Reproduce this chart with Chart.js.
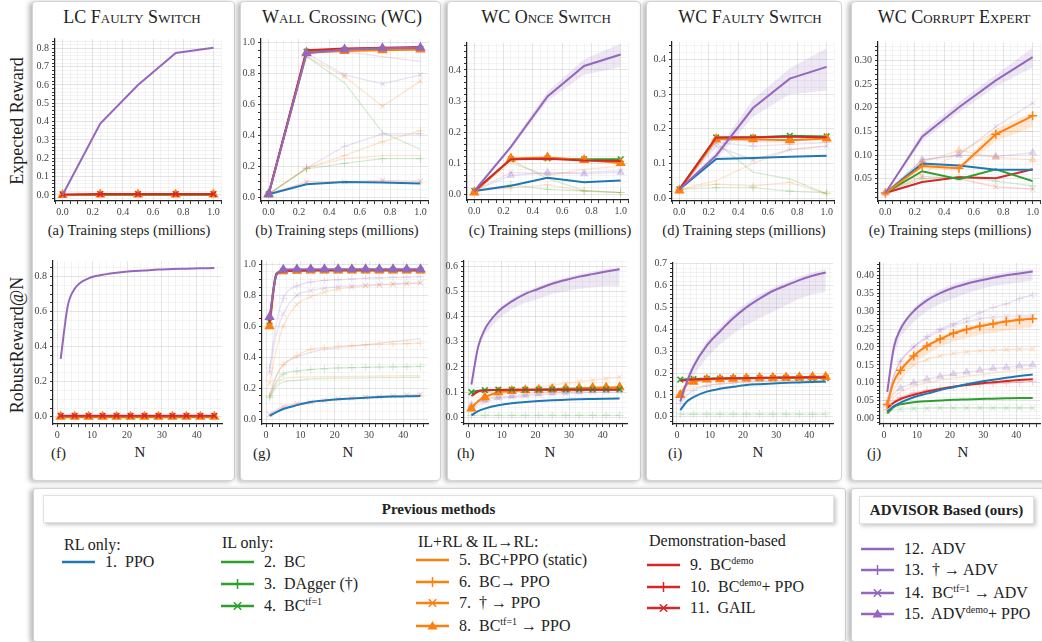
<!DOCTYPE html>
<html>
<head>
<meta charset="utf-8">
<script src="https://cdn.jsdelivr.net/npm/chart.js@4.4.1/dist/chart.umd.min.js"></script>
<style>
  html, body { margin: 0; padding: 0; width: 1042px; height: 642px; overflow: hidden; background: #fff; }
  body { position: relative; font-family: 'Liberation Serif', 'DejaVu Serif', serif; color: #222; }
  .card { position: absolute; background: #fff; border: 1px solid #d4d4d4; border-radius: 4px; box-shadow: -3px 1px 5px rgba(0,0,0,0.28); }
  .hdr { position: absolute; background: #fff; border: 1px solid #e0e0e0; box-shadow: 2px 2px 4px rgba(0,0,0,0.22); font-weight: bold; font-size: 15px; text-align: center; line-height: 26px; }
  .title { position: absolute; width: 220px; text-align: center; font-variant: small-caps; font-size: 18px; white-space: nowrap; line-height: 20px; }
  .xlab { position: absolute; width: 220px; text-align: center; font-size: 14.5px; white-space: nowrap; line-height: 18px; }
  .tag { position: absolute; font-size: 15px; line-height: 18px; }
  .ylab { position: absolute; width: 200px; text-align: center; font-size: 18px; line-height: 20px; white-space: nowrap; transform: rotate(-90deg); }
  canvas { position: absolute; }
  .lg { position: absolute; font-size: 16px; line-height: 18px; white-space: nowrap; }
  .lg sup { font-size: 10px; vertical-align: 6px; line-height: 0; }
  svg { position: absolute; }
</style>
</head>
<body>
<script>
// ---------------------------------------------------------------------
// Datos: pasos de entrenamiento (fila superior) y N (fila inferior)
// Cada serie: [método, destacado (1) o tenue (0), valores]
// ---------------------------------------------------------------------
const stepsX = [0, 0.25, 0.5, 0.75, 1.0];
const nX = [1, 3, 5, 9, 13, 17, 21, 25, 29, 33, 37, 41, 45];

const aSeries = [
  [1, 1, [0, 0, 0, 0, 0]],
  [2, 1, [0, 0, 0, 0, 0]],
  [8, 1, [0, 0.002, 0.002, 0.002, 0.002]],
  [11, 1, [0.003, 0.005, 0.005, 0.005, 0.005]],
  [12, 1, [0, 0.39, 0.60, 0.775, 0.803]]
];
const bSeries = [
  [12, 0, [0.02, 0.93, 0.94, 0.908, 0.878]],
  [14, 0, [0.02, 0.93, 0.79, 0.733, 0.79]],
  [7, 0, [0.02, 0.91, 0.78, 0.588, 0.75]],
  [2, 0, [0.02, 0.91, 0.74, 0.42, 0.31]],
  [13, 0, [0.02, 0.19, 0.33, 0.41, 0.41]],
  [6, 0, [0.02, 0.19, 0.27, 0.36, 0.43]],
  [5, 0, [0.02, 0.19, 0.25, 0.27, 0.27]],
  [3, 0, [0.02, 0.185, 0.22, 0.25, 0.25]],
  [11, 0, [0.02, 0.10, 0.10, 0.11, 0.105]],
  [1, 1, [0.02, 0.085, 0.10, 0.096, 0.09]],
  [4, 1, [0.02, 0.94, 0.95, 0.955, 0.958]],
  [8, 1, [0.02, 0.935, 0.945, 0.95, 0.955]],
  [9, 1, [0.02, 0.95, 0.96, 0.965, 0.97]],
  [15, 1, [0.02, 0.93, 0.955, 0.962, 0.965]]
];
const cSeries = [
  [15, 0, [0.01, 0.06, 0.07, 0.065, 0.07]],
  [14, 0, [0.01, 0.07, 0.065, 0.07, 0.075]],
  [5, 0, [0.01, 0.10, 0.06, 0.08, 0.09]],
  [2, 0, [0.01, 0.11, 0.05, 0.012, 0.005]],
  [6, 0, [0.01, 0.02, 0.03, 0.01, 0.005]],
  [3, 0, [0.01, 0.03, 0.015, 0.01, 0.005]],
  [1, 1, [0.01, 0.027, 0.053, 0.038, 0.044]],
  [4, 1, [0.01, 0.112, 0.115, 0.112, 0.112]],
  [8, 1, [0.005, 0.115, 0.118, 0.11, 0.10]],
  [9, 1, [0.01, 0.112, 0.114, 0.108, 0.107]],
  [12, 1, [0.01, 0.152, 0.315, 0.413, 0.45]]
];
const cBandLow = [0.01, 0.145, 0.30, 0.385, 0.41];
const cBandHigh = [0.01, 0.16, 0.33, 0.435, 0.485];

const dSeries = [
  [2, 0, [0.025, 0.16, 0.075, 0.055, 0.012]],
  [5, 0, [0.025, 0.05, 0.10, 0.14, 0.15]],
  [3, 0, [0.025, 0.03, 0.03, 0.02, 0.015]],
  [6, 0, [0.025, 0.04, 0.035, 0.045, 0.012]],
  [14, 0, [0.025, 0.15, 0.11, 0.14, 0.15]],
  [13, 0, [0.025, 0.16, 0.15, 0.155, 0.16]],
  [10, 0, [0.025, 0.17, 0.165, 0.165, 0.17]],
  [1, 1, [0.025, 0.113, 0.116, 0.119, 0.122]],
  [4, 1, [0.025, 0.175, 0.175, 0.18, 0.178]],
  [8, 1, [0.022, 0.17, 0.17, 0.167, 0.172]],
  [9, 1, [0.025, 0.175, 0.176, 0.177, 0.176]],
  [12, 1, [0.025, 0.123, 0.26, 0.345, 0.379]]
];
const dBandLow = [0.025, 0.11, 0.235, 0.30, 0.31];
const dBandHigh = [0.025, 0.135, 0.285, 0.375, 0.433];

const eSeries = [
  [14, 0, [0.02, 0.09, 0.10, 0.16, 0.21]],
  [8, 0, [0.02, 0.085, 0.11, 0.095, 0.09]],
  [15, 0, [0.02, 0.09, 0.10, 0.097, 0.105]],
  [5, 0, [0.02, 0.06, 0.105, 0.15, 0.15]],
  [11, 0, [0.02, 0.055, 0.05, 0.033, 0.028]],
  [3, 0, [0.02, 0.05, 0.055, 0.045, 0.035]],
  [9, 1, [0.02, 0.043, 0.053, 0.051, 0.07]],
  [2, 1, [0.02, 0.066, 0.049, 0.07, 0.045]],
  [1, 1, [0.02, 0.082, 0.078, 0.069, 0.069]],
  [6, 1, [0.02, 0.077, 0.072, 0.144, 0.183]],
  [12, 1, [0.02, 0.139, 0.201, 0.258, 0.307]]
];
const eBandLow = [0.02, 0.13, 0.19, 0.245, 0.285];
const eBandHigh = [0.02, 0.148, 0.212, 0.27, 0.327];
const eOrangeLow = [0.02, 0.072, 0.066, 0.13, 0.16];
const eOrangeHigh = [0.02, 0.082, 0.078, 0.155, 0.19];

const fSeries = [
  [1, 1, [0, 0, 0, 0, 0, 0, 0, 0, 0, 0, 0, 0, 0]],
  [2, 1, [-0.002, -0.002, -0.002, -0.002, -0.002, -0.002, -0.002, -0.002, -0.002, -0.002, -0.002, -0.002, -0.002]],
  [8, 1, [0.001, 0.001, 0.001, 0.001, 0.001, 0.001, 0.001, 0.001, 0.001, 0.001, 0.001, 0.001, 0.001]],
  [11, 1, [0.006, 0.006, 0.006, 0.006, 0.006, 0.006, 0.006, 0.006, 0.006, 0.006, 0.006, 0.006, 0.006]],
  [12, 1, [0.33, 0.63, 0.73, 0.79, 0.81, 0.822, 0.83, 0.835, 0.84, 0.843, 0.845, 0.847, 0.849]]
];
const gSeries = [
  [13, 0, [0.33, 0.62, 0.78, 0.86, 0.885, 0.895, 0.90, 0.905, 0.91, 0.912, 0.915, 0.917, 0.92]],
  [14, 0, [0.30, 0.55, 0.68, 0.80, 0.83, 0.845, 0.855, 0.86, 0.865, 0.87, 0.873, 0.876, 0.88]],
  [7, 0, [0.23, 0.45, 0.60, 0.74, 0.79, 0.82, 0.84, 0.85, 0.86, 0.865, 0.87, 0.875, 0.88]],
  [12, 0, [0.15, 0.28, 0.35, 0.40, 0.43, 0.45, 0.46, 0.47, 0.48, 0.49, 0.50, 0.51, 0.52]],
  [6, 0, [0.15, 0.28, 0.35, 0.41, 0.45, 0.46, 0.47, 0.475, 0.48, 0.483, 0.485, 0.487, 0.49]],
  [3, 0, [0.14, 0.24, 0.29, 0.31, 0.32, 0.325, 0.33, 0.332, 0.334, 0.336, 0.337, 0.338, 0.34]],
  [2, 0, [0.13, 0.21, 0.24, 0.25, 0.26, 0.262, 0.264, 0.265, 0.266, 0.267, 0.268, 0.269, 0.27]],
  [5, 0, [0.14, 0.23, 0.26, 0.27, 0.272, 0.274, 0.275, 0.276, 0.277, 0.278, 0.279, 0.28, 0.28]],
  [11, 0, [0.03, 0.06, 0.08, 0.10, 0.11, 0.12, 0.13, 0.135, 0.14, 0.145, 0.15, 0.155, 0.16]],
  [1, 1, [0.02, 0.045, 0.065, 0.09, 0.11, 0.12, 0.128, 0.133, 0.138, 0.142, 0.145, 0.147, 0.149]],
  [4, 1, [0.63, 0.94, 0.955, 0.958, 0.96, 0.96, 0.96, 0.96, 0.96, 0.96, 0.96, 0.96, 0.96]],
  [8, 1, [0.60, 0.93, 0.955, 0.958, 0.96, 0.96, 0.96, 0.96, 0.96, 0.96, 0.96, 0.96, 0.96]],
  [9, 1, [0.62, 0.935, 0.955, 0.96, 0.962, 0.963, 0.964, 0.965, 0.965, 0.965, 0.965, 0.965, 0.965]],
  [15, 1, [0.66, 0.93, 0.965, 0.967, 0.968, 0.968, 0.968, 0.968, 0.968, 0.968, 0.968, 0.968, 0.968]]
];
const hSeries = [
  [7, 0, [0.04, 0.06, 0.07, 0.09, 0.10, 0.11, 0.12, 0.128, 0.135, 0.142, 0.148, 0.154, 0.16]],
  [15, 0, [0.05, 0.06, 0.07, 0.08, 0.085, 0.09, 0.095, 0.098, 0.10, 0.103, 0.106, 0.108, 0.11]],
  [14, 0, [0.03, 0.05, 0.06, 0.075, 0.08, 0.085, 0.09, 0.092, 0.095, 0.097, 0.10, 0.10, 0.10]],
  [3, 0, [0.008, 0.008, 0.008, 0.008, 0.008, 0.008, 0.008, 0.008, 0.008, 0.008, 0.008, 0.008, 0.008]],
  [1, 1, [0.008, 0.025, 0.035, 0.048, 0.056, 0.061, 0.065, 0.068, 0.07, 0.072, 0.073, 0.074, 0.075]],
  [8, 1, [0.035, 0.065, 0.08, 0.10, 0.105, 0.108, 0.11, 0.112, 0.114, 0.116, 0.118, 0.119, 0.12]],
  [4, 1, [0.10, 0.106, 0.108, 0.11, 0.11, 0.11, 0.11, 0.111, 0.111, 0.111, 0.111, 0.111, 0.111]],
  [9, 1, [0.085, 0.103, 0.107, 0.109, 0.11, 0.11, 0.11, 0.11, 0.11, 0.11, 0.11, 0.11, 0.11]],
  [12, 1, [0.13, 0.28, 0.35, 0.42, 0.46, 0.49, 0.51, 0.53, 0.545, 0.558, 0.568, 0.578, 0.587]]
];
const hBandLow = [0.13, 0.27, 0.33, 0.39, 0.43, 0.455, 0.47, 0.49, 0.50, 0.51, 0.515, 0.52, 0.52];
const hBandHigh = [0.13, 0.29, 0.36, 0.43, 0.47, 0.50, 0.52, 0.54, 0.555, 0.568, 0.578, 0.588, 0.595];

const iSeries = [
  [3, 0, [0.012, 0.012, 0.012, 0.012, 0.012, 0.012, 0.012, 0.012, 0.012, 0.012, 0.012, 0.012, 0.012]],
  [13, 0, [0.06, 0.10, 0.12, 0.14, 0.15, 0.155, 0.16, 0.162, 0.164, 0.165, 0.166, 0.167, 0.168]],
  [5, 0, [0.08, 0.12, 0.13, 0.145, 0.15, 0.155, 0.158, 0.16, 0.162, 0.163, 0.164, 0.165, 0.165]],
  [1, 1, [0.03, 0.07, 0.09, 0.115, 0.128, 0.137, 0.145, 0.149, 0.152, 0.155, 0.157, 0.159, 0.16]],
  [4, 1, [0.17, 0.172, 0.173, 0.174, 0.175, 0.176, 0.176, 0.177, 0.177, 0.178, 0.178, 0.178, 0.178]],
  [8, 1, [0.10, 0.15, 0.16, 0.17, 0.172, 0.174, 0.176, 0.178, 0.179, 0.18, 0.181, 0.182, 0.183]],
  [9, 1, [0.165, 0.168, 0.17, 0.173, 0.175, 0.176, 0.177, 0.178, 0.179, 0.18, 0.18, 0.181, 0.181]],
  [12, 1, [0.07, 0.16, 0.23, 0.325, 0.39, 0.45, 0.50, 0.54, 0.575, 0.60, 0.625, 0.645, 0.66]]
];
const iBandLow = [0.07, 0.13, 0.19, 0.27, 0.33, 0.38, 0.42, 0.45, 0.48, 0.51, 0.54, 0.56, 0.57];
const iBandHigh = [0.07, 0.18, 0.25, 0.345, 0.41, 0.47, 0.52, 0.56, 0.59, 0.615, 0.64, 0.66, 0.675];

const jSeries = [
  [13, 0, [0.05, 0.12, 0.16, 0.20, 0.23, 0.25, 0.265, 0.28, 0.295, 0.31, 0.32, 0.335, 0.345]],
  [14, 0, [0.05, 0.12, 0.16, 0.20, 0.225, 0.245, 0.26, 0.27, 0.278, 0.283, 0.285, 0.286, 0.287]],
  [7, 0, [0.03, 0.08, 0.11, 0.15, 0.165, 0.175, 0.182, 0.186, 0.189, 0.191, 0.193, 0.194, 0.195]],
  [15, 0, [0.04, 0.07, 0.085, 0.10, 0.11, 0.118, 0.125, 0.13, 0.135, 0.14, 0.143, 0.147, 0.15]],
  [5, 0, [0.03, 0.06, 0.075, 0.09, 0.10, 0.107, 0.113, 0.118, 0.123, 0.128, 0.132, 0.136, 0.14]],
  [10, 0, [0.025, 0.05, 0.06, 0.072, 0.08, 0.085, 0.09, 0.093, 0.096, 0.098, 0.10, 0.102, 0.104]],
  [4, 0, [0.02, 0.025, 0.027, 0.028, 0.029, 0.03, 0.03, 0.03, 0.03, 0.03, 0.03, 0.03, 0.03]],
  [2, 1, [0.015, 0.033, 0.04, 0.046, 0.049, 0.051, 0.053, 0.054, 0.055, 0.056, 0.057, 0.058, 0.058]],
  [9, 1, [0.03, 0.045, 0.055, 0.067, 0.076, 0.083, 0.089, 0.094, 0.098, 0.102, 0.105, 0.108, 0.11]],
  [1, 1, [0.02, 0.035, 0.045, 0.06, 0.07, 0.08, 0.088, 0.096, 0.103, 0.109, 0.114, 0.119, 0.123]],
  [6, 1, [0.04, 0.105, 0.135, 0.175, 0.203, 0.222, 0.238, 0.249, 0.258, 0.265, 0.271, 0.276, 0.279]],
  [12, 1, [0.075, 0.20, 0.25, 0.30, 0.33, 0.35, 0.365, 0.376, 0.385, 0.393, 0.40, 0.405, 0.41]]
];
const jBandLow = [0.075, 0.18, 0.23, 0.27, 0.30, 0.32, 0.335, 0.35, 0.36, 0.37, 0.375, 0.38, 0.385];
const jBandHigh = [0.075, 0.21, 0.26, 0.31, 0.34, 0.36, 0.375, 0.386, 0.395, 0.402, 0.408, 0.413, 0.417];
const jOrangeLow = [0.04, 0.095, 0.12, 0.155, 0.18, 0.20, 0.215, 0.225, 0.235, 0.24, 0.245, 0.25, 0.255];
const jOrangeHigh = [0.04, 0.11, 0.145, 0.185, 0.21, 0.23, 0.245, 0.257, 0.265, 0.272, 0.278, 0.283, 0.287];

// Textos
const panelTitles = ['LC Faulty Switch', 'Wall Crossing (WC)', 'WC Once Switch', 'WC Faulty Switch', 'WC Corrupt Expert'];
const methodNames = ['1.&nbsp; PPO', '2.&nbsp; BC', '3.&nbsp; DAgger (†)', '4.&nbsp; BC<sup>tf=1</sup>',
  '5.&nbsp; BC+PPO (static)', '6.&nbsp; BC→ PPO', '7.&nbsp; † → PPO', '8.&nbsp; BC<sup>tf=1</sup> → PPO',
  '9.&nbsp; BC<sup>demo</sup>', '10.&nbsp; BC<sup>demo</sup>+ PPO', '11.&nbsp; GAIL',
  '12.&nbsp; ADV', '13.&nbsp; † → ADV', '14.&nbsp; BC<sup>tf=1</sup> → ADV', '15.&nbsp; ADV<sup>demo</sup>+ PPO'];

// ---------------------------------------------------------------------
// Estilos por método (color tab10 y marcador)
// ---------------------------------------------------------------------
const BLUE = '#1f77b4', ORANGE = '#ff7f0e', GREEN = '#2ca02c', RED = '#d62728', PURPLE = '#9467bd';
const methodColor = [BLUE, GREEN, GREEN, GREEN, ORANGE, ORANGE, ORANGE, ORANGE, RED, RED, RED, PURPLE, PURPLE, PURPLE, PURPLE];
const methodMarker = [null, null, 'cross', 'crossRot', null, 'cross', 'crossRot', 'triangle', null, 'cross', 'crossRot', null, 'cross', 'crossRot', 'triangle'];

function rgba(hex, a) {
  const n = parseInt(hex.slice(1), 16);
  return `rgba(${n >> 16},${(n >> 8) & 255},${n & 255},${a})`;
}

// Caja del área de trazado [izq, arriba, der, abajo] en px de la página
const PANELS = [
  { series: aSeries, bands: [], xs: stepsX, box: [55, 38, 221, 201], y: [-0.033, 0.851], yMajor: 0.1, yMinor: 0.02, dec: 1 },
  { series: bSeries, bands: [], xs: stepsX, box: [261, 38, 428, 201], y: [-0.023, 1.022], yMajor: 0.2, yMinor: 0.05, dec: 1 },
  { series: cSeries, bands: [[cBandLow, cBandHigh, PURPLE]], xs: stepsX, box: [467, 42, 628, 200], y: [-0.019, 0.487], yMajor: 0.1, yMinor: 0.02, dec: 1 },
  { series: dSeries, bands: [[dBandLow, dBandHigh, PURPLE]], xs: stepsX, box: [672, 41, 834, 201], y: [-0.0086, 0.451], yMajor: 0.1, yMinor: 0.02, dec: 1 },
  { series: eSeries, bands: [[eOrangeLow, eOrangeHigh, ORANGE], [eBandLow, eBandHigh, PURPLE]], xs: stepsX, box: [878, 41, 1040, 201], y: [0.003, 0.339], yMajor: 0.05, yMinor: 0.01, dec: 2 },
  { series: fSeries, bands: [], xs: nX, box: [53, 260, 222, 424], y: [-0.041, 0.889], yMajor: 0.2, yMinor: 0.05, dec: 1 },
  { series: gSeries, bands: [], xs: nX, box: [262, 260, 428, 424], y: [-0.032, 1.021], yMajor: 0.2, yMinor: 0.05, dec: 1 },
  { series: hSeries, bands: [[hBandLow, hBandHigh, PURPLE]], xs: nX, box: [464, 260, 627, 424], y: [-0.026, 0.62], yMajor: 0.1, yMinor: 0.02, dec: 1 },
  { series: iSeries, bands: [[iBandLow, iBandHigh, PURPLE]], xs: nX, box: [673, 262, 833, 424], y: [-0.033, 0.703], yMajor: 0.1, yMinor: 0.02, dec: 1 },
  { series: jSeries, bands: [[jOrangeLow, jOrangeHigh, ORANGE], [jBandLow, jBandHigh, PURPLE]], xs: nX, box: [880, 262, 1040, 424], y: [-0.0146, 0.434], yMajor: 0.05, yMinor: 0.01, dec: 2 }
];

function el(tag, cls, css, html) {
  const e = document.createElement(tag);
  if (cls) e.className = cls;
  Object.assign(e.style, css);
  if (html !== undefined) e.innerHTML = html;
  document.body.appendChild(e);
  return e;
}

// ---------------------------------------------------------------------
// Tarjetas, títulos y etiquetas
// ---------------------------------------------------------------------
const cards = [[32, 1, 201, 478], [240, 1, 199, 478], [447, 1, 192, 478], [646, 1, 194, 478], [851, 1, 200, 478]];
cards.forEach(c => el('div', 'card', { left: c[0] + 'px', top: c[1] + 'px', width: c[2] + 'px', height: c[3] + 'px' }));

const titleX = [132, 342, 546, 750, 954];
panelTitles.forEach((t, i) => el('div', 'title', { left: (titleX[i] - 110) + 'px', top: '7px' }, t));

const xlabX = [129, 337, 550, 744, 950];
'abcde'.split('').forEach((l, i) =>
  el('div', 'xlab', { left: (xlabX[i] - 110) + 'px', top: '221px' }, `(${l})&nbsp;Training steps (millions)`));

const tagX = [51, 253, 457, 668, 867];
const nX2 = [140, 348, 550, 758, 963];
'fghij'.split('').forEach((l, i) => {
  el('div', 'tag', { left: tagX[i] + 'px', top: '444px' }, `(${l})`);
  el('div', 'tag', { left: (nX2[i] - 10) + 'px', top: '443px', width: '20px', textAlign: 'center' }, 'N');
});

el('div', 'ylab', { left: (17 - 100) + 'px', top: (121 - 10) + 'px' }, 'Expected Reward');
el('div', 'ylab', { left: (17 - 100) + 'px', top: (345 - 10) + 'px' }, 'RobustReward@N');

// ---------------------------------------------------------------------
// Gráficos
// ---------------------------------------------------------------------
const Y_W = 34, PAD_T = 8, PAD_R = 12, X_H = 18;

function isMajor(v, major) {
  const r = v / major;
  return Math.abs(r - Math.round(r)) < 1e-6;
}

PANELS.forEach((p, idx) => {
  const [L, T, R, B] = p.box;
  const top = idx < 5;
  const canvas = document.createElement('canvas');
  const w = R - L + Y_W + PAD_R, h = B - T + PAD_T + X_H;
  canvas.width = w; canvas.height = h;
  Object.assign(canvas.style, { left: (L - Y_W) + 'px', top: (T - PAD_T) + 'px', width: w + 'px', height: h + 'px' });
  document.body.appendChild(canvas);

  const datasets = [];
  const pts = ys => p.xs.map((x, i) => ({ x, y: ys[i] }));

  // Bandas de desviación (debajo de todo)
  p.bands.forEach(([lo, hi, col]) => {
    datasets.push({ data: pts(lo), borderColor: 'transparent', pointRadius: 0, fill: false });
    datasets.push({ data: pts(hi), borderColor: 'transparent', pointRadius: 0, fill: '-1', backgroundColor: rgba(col, 0.16) });
  });

  // Primero las tenues, luego las destacadas
  const ordered = p.series.filter(s => !s[1]).concat(p.series.filter(s => s[1]));
  ordered.forEach(([m, bold, ys]) => {
    const base = methodColor[m - 1];
    const marker = methodMarker[m - 1];
    const col = bold ? base : rgba(base, 0.2);
    const r = marker === 'crossRot' ? 4 : 4.5;
    datasets.push({
      data: pts(ys),
      borderColor: col,
      backgroundColor: col,
      borderWidth: bold ? 2 : 1.3,
      pointStyle: marker || 'circle',
      pointBorderWidth: bold ? 1.5 : 1.1,
      pointRadius: ctx => {
        if (!marker) return 0;
        if (!top && (ctx.raw.x - 1) % 4 !== 0) return 0;
        return bold ? r : r - 0.5;
      },
      cubicInterpolationMode: top ? 'default' : 'monotone',
      tension: 0,
      fill: false
    });
  });
  datasets.forEach((d, i) => { d.order = -i; });

  const gridColor = major => ctx => isMajor(ctx.tick.value, major) ? 'rgba(0,0,0,0.10)' : 'rgba(0,0,0,0.045)';
  const tickFont = { family: "'Liberation Serif', serif", size: 10 };

  new Chart(canvas, {
    type: 'line',
    data: { datasets },
    options: {
      responsive: false,
      animation: false,
      events: [],
      layout: { padding: { top: PAD_T, right: PAD_R, left: 0, bottom: 0 } },
      plugins: { legend: { display: false }, tooltip: { enabled: false } },
      scales: {
        x: {
          type: 'linear',
          min: top ? -0.05 : -1.2,
          max: top ? 1.05 : 47.2,
          afterFit: s => { s.height = X_H; },
          border: { color: '#222', width: 1.2 },
          grid: { color: gridColor(top ? 0.2 : 10), tickColor: '#333', tickLength: 3 },
          ticks: {
            stepSize: top ? 0.05 : 2, includeBounds: false, autoSkip: false, maxRotation: 0,
            padding: 2, color: '#444', font: tickFont,
            callback: v => isMajor(v, top ? 0.2 : 10) ? (top ? v.toFixed(1) : String(Math.round(v))) : ''
          }
        },
        y: {
          type: 'linear',
          min: p.y[0], max: p.y[1],
          afterFit: s => { s.width = Y_W; },
          border: { color: '#222', width: 1.2 },
          grid: { color: gridColor(p.yMajor), tickColor: '#333', tickLength: 3 },
          ticks: {
            stepSize: p.yMinor, includeBounds: false, autoSkip: false,
            padding: 3, color: '#444', font: tickFont,
            callback: v => isMajor(v, p.yMajor) ? v.toFixed(p.dec) : ''
          }
        }
      }
    }
  });
});

// ---------------------------------------------------------------------
// Leyenda
// ---------------------------------------------------------------------
el('div', 'card', { left: '33px', top: '488px', width: '811px', height: '152px', borderRadius: '3px' });
el('div', 'card', { left: '851px', top: '488px', width: '200px', height: '152px', borderRadius: '3px' });
el('div', 'hdr', { left: '43px', top: '495px', width: '789px', height: '26px' }, 'Previous methods');
el('div', 'hdr', { left: '859px', top: '496px', width: '173px', height: '26px' }, 'ADVISOR Based (ours)');

const groupHeads = [['RL only:', 64, 545], ['IL only:', 222, 543], ['IL+RL &amp; IL→RL:', 418, 542], ['Demonstration-based', 649, 541]];
groupHeads.forEach(([t, x, y]) => el('div', 'lg', { left: x + 'px', top: (y - 9) + 'px' }, t));

const legendPos = [[62, 562], [221, 562], [221, 584], [221, 606], [416, 560], [416, 582], [416, 603], [416, 626],
  [647, 565], [647, 587], [647, 608], [861, 549], [861, 570], [861, 593], [861, 614]];

const NS = 'http://www.w3.org/2000/svg';
legendPos.forEach(([x, y], i) => {
  const col = methodColor[i], mk = methodMarker[i];
  const svg = document.createElementNS(NS, 'svg');
  svg.setAttribute('width', 34); svg.setAttribute('height', 14);
  Object.assign(svg.style, { left: x + 'px', top: (y - 7) + 'px' });
  let inner = `<line x1="0" y1="7" x2="33" y2="7" stroke="${col}" stroke-width="2.6"/>`;
  if (mk === 'cross') inner += `<line x1="16.5" y1="2" x2="16.5" y2="12" stroke="${col}" stroke-width="1.5"/>`;
  if (mk === 'crossRot') inner += `<path d="M12.8 3.3 L20.2 10.7 M20.2 3.3 L12.8 10.7" stroke="${col}" stroke-width="1.5"/>`;
  if (mk === 'triangle') inner += `<polygon points="16.5,2 11.5,10.5 21.5,10.5" fill="${col}"/>`;
  svg.innerHTML = inner;
  document.body.appendChild(svg);
  el('div', 'lg', { left: (x + 43) + 'px', top: (y - 9) + 'px' }, methodNames[i]);
});
</script>
</body>
</html>
